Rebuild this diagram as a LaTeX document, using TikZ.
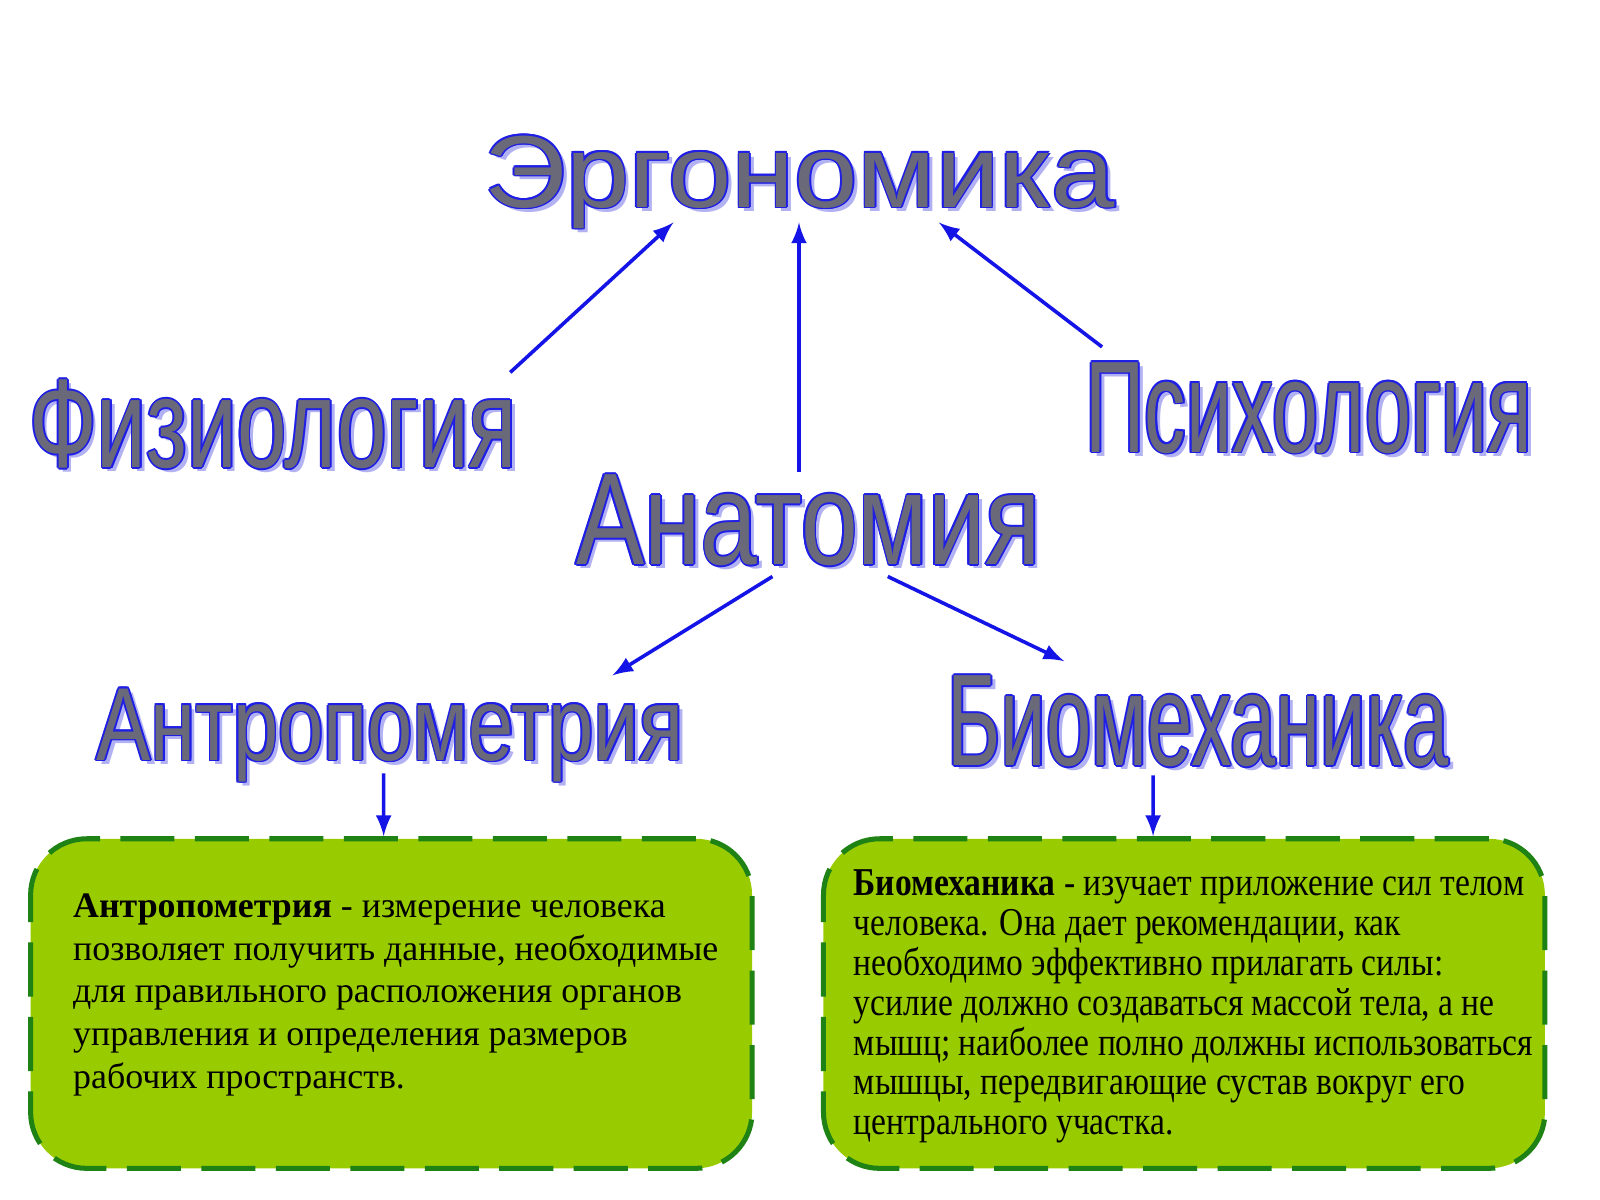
\documentclass[tikz,border=0pt]{standalone}
\usepackage{fontspec}
\setmainfont{Liberation Serif}
\newfontfamily\artfont{Liberation Sans}
\newfontfamily\narrowserif[FakeStretch=0.85]{Liberation Serif}

\definecolor{artgray}{RGB}{105,105,122}
\definecolor{artblue}{RGB}{30,30,230}
\definecolor{artshadow}{RGB}{178,178,242}
\definecolor{arrowblue}{RGB}{20,20,230}
\definecolor{boxfill}{RGB}{153,204,0}
\definecolor{boxline}{RGB}{30,130,20}

\newcommand{\artlayer}[3]{\rlap{\kern#2\raisebox{#3}{\resizebox{\artwidth}{\artheight}{\artfont\color{#1}\arttext}}}}
\newcommand{\wordart}[3]{%
  \def\artwidth{#1}\def\artheight{#2}\def\arttext{#3}%
  \artlayer{artshadow}{1.3pt}{-1.3pt}%
  \artlayer{artblue}{0.5pt}{0pt}\artlayer{artblue}{-0.5pt}{0pt}%
  \artlayer{artblue}{0pt}{0.5pt}\artlayer{artblue}{0pt}{-0.5pt}%
  \artlayer{artblue}{0.35pt}{0.35pt}\artlayer{artblue}{-0.35pt}{0.35pt}%
  \artlayer{artblue}{0.35pt}{-0.35pt}\artlayer{artblue}{-0.35pt}{-0.35pt}%
  \resizebox{#1}{#2}{\artfont\color{artgray}#3}}

\tikzset{
  word/.style={inner sep=0pt, anchor=base west},
  link/.style={-latex, line width=1pt, draw=arrowblue},
  infobox/.style={draw=boxline, line width=1.4pt, dash pattern=on 0.53cm off 0.2cm,
    fill=boxfill, rounded corners=0.55cm, minimum width=7.07cm, minimum height=3.23cm},
  infotext/.style={inner sep=0pt, anchor=north west, align=left}
}

\begin{document}
\begin{tikzpicture}

\useasboundingbox (0,0.24) rectangle (15.68,12);
\fill[white] (0,0.24) rectangle (15.68,12);

\node[word] (ergo) at (4.74,9.97) {\wordart{6.18cm}{0.70cm}{Эргономика}};
\node[word] (fiz) at (0.28,7.42) {\wordart{4.78cm}{0.86cm}{Физиология}};
\node[word] (psy) at (10.63,7.57) {\wordart{4.38cm}{0.88cm}{Психология}};
\node[word] (anat) at (5.64,6.47) {\wordart{4.55cm}{0.88cm}{Анатомия}};
\node[word] (antro) at (0.94,4.55) {\wordart{5.75cm}{0.70cm}{Антропометрия}};
\node[word] (bio) at (9.28,4.50) {\wordart{4.91cm}{0.88cm}{Биомеханика}};

\draw[link] ([shift={(4.72,0.93)}]fiz.base west) -- ([shift={(1.86,-0.15)}]ergo.base west);
\draw[link] ([shift={(2.19,0.90)}]anat.base west) -- ([shift={(3.09,-0.15)}]ergo.base west);
\draw[link] ([shift={(0.17,1.03)}]psy.base west) -- ([shift={(4.46,-0.15)}]ergo.base west);

\draw[link] ([shift={(1.93,-0.12)}]anat.base west) -- ([shift={(5.06,0.83)}]antro.base west);
\draw[link] ([shift={(3.06,-0.12)}]anat.base west) -- ([shift={(1.15,1.02)}]bio.base west);

\node[infobox] (abox) at (3.835,2.165) {};
\node[infobox] (bbox) at (11.605,2.165) {};

\draw[link] ([shift={(2.82,-0.13)}]antro.base west) -- ([xshift=-0.075cm]abox.north);
\draw[link] ([shift={(2.02,-0.10)}]bio.base west) -- ([xshift=-0.305cm]bbox.north);

\node[infotext, font=\fontsize{10}{11.95}\selectfont] (atext) at (0.71,3.25)
  {\textbf{Антропометрия} - измерение человека\\позволяет получить данные, необходимые\\для правильного расположения органов\\управления и определения размеров\\рабочих пространств.};

\node[infotext, font=\narrowserif\fontsize{11}{11.1}\selectfont] (btext) at (8.36,3.48)
  {\textbf{Биомеханика} - изучает приложение сил телом\\человека. Она дает рекомендации, как\\необходимо эффективно прилагать силы:\\усилие должно создаваться массой тела, а не\\мышц; наиболее полно должны использоваться\\мышцы, передвигающие сустав вокруг его\\центрального участка.};

\end{tikzpicture}
\end{document}
